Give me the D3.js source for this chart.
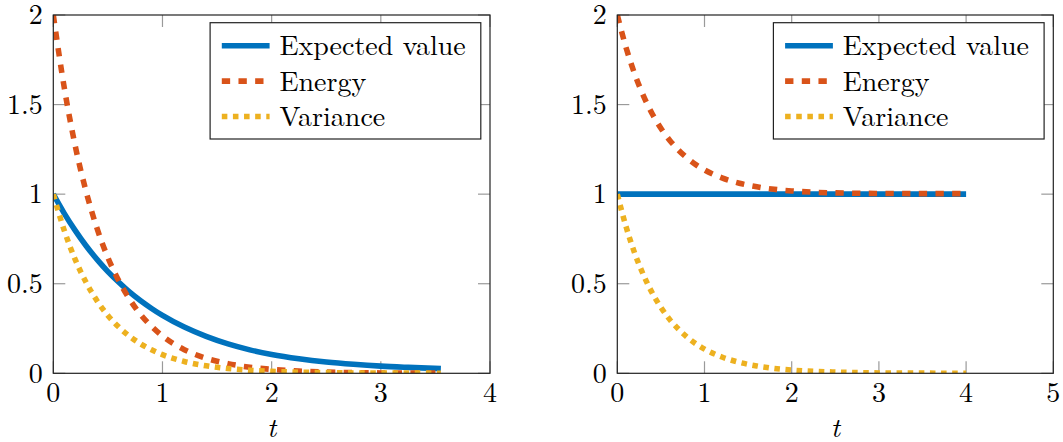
<!DOCTYPE html>
<html>
<head>
<meta charset="utf-8">
<script src="https://cdn.jsdelivr.net/npm/d3@7/dist/d3.min.js"></script>
<style>
  body { margin: 0; background: #fff; }
</style>
</head>
<body>
<div id="chart"></div>
<script>
// left panel, values
const tLeft = [0, 0.1, 0.2, 0.3, 0.4, 0.5, 0.6, 0.7, 0.8, 0.9, 1.0, 1.2, 1.4, 1.6, 1.8, 2.0, 2.25, 2.5, 2.75, 3.0, 3.25, 3.55];
const expLeft = [1, 0.893, 0.798, 0.712, 0.636, 0.568, 0.508, 0.453, 0.405, 0.362, 0.323, 0.258, 0.206, 0.164, 0.131, 0.105, 0.081, 0.063, 0.05, 0.04, 0.033, 0.026];
const energyLeft = [2, 1.596, 1.272, 1.016, 0.81, 0.646, 0.516, 0.412, 0.328, 0.262, 0.208, 0.132, 0.084, 0.054, 0.034, 0.022, 0.012, 0.007, 0.004, 0.002, 0.001, 0.001];
const varLeft = [1, 0.798, 0.636, 0.508, 0.405, 0.323, 0.258, 0.206, 0.164, 0.131, 0.104, 0.066, 0.042, 0.027, 0.017, 0.011, 0.006, 0.004, 0.002, 0.001, 0.001, 0.0005];

// right panel
const tRight = [0, 0.1, 0.2, 0.3, 0.4, 0.5, 0.6, 0.7, 0.8, 0.9, 1.0, 1.2, 1.4, 1.6, 1.8, 2.0, 2.5, 3.0, 3.5, 4.0];
const expRight = [1, 1, 1, 1, 1, 1, 1, 1, 1, 1, 1, 1, 1, 1, 1, 1, 1, 1, 1, 1];
const energyRight = [2, 1.819, 1.670, 1.549, 1.449, 1.368, 1.301, 1.247, 1.202, 1.165, 1.135, 1.091, 1.061, 1.041, 1.027, 1.018, 1.007, 1.004, 1.003, 1.003];
const varRight = [1, 0.819, 0.670, 0.549, 0.449, 0.368, 0.301, 0.247, 0.202, 0.165, 0.135, 0.091, 0.061, 0.041, 0.027, 0.018, 0.007, 0.002, 0.001, 0];

const xTicksLeft = [0, 1, 2, 3, 4];
const xTicksRight = [0, 1, 2, 3, 4, 5];
const yTicks = [0, 0.5, 1, 1.5, 2];
const legendLabels = ["Expected value", "Energy", "Variance"];

const font = "'Latin Modern Roman', 'Liberation Serif', serif";
const lw = 5.56;
const styles = [
  { color: "#0072bd", dash: null },
  { color: "#d95319", dash: "8.34,8.34" },
  { color: "#edb120", dash: "5.56,5.56" }
];
const tickLen = 12;
const axTop = 15, axBottom = 373.3;

var svg = d3.select("#chart")
  .append("svg")
  .attr("width", 1063)
  .attr("height", 442);

//all labels share the same font
function label(parent, x, y, txt) {
  return parent.append("text")
    .attr("x", x)
    .attr("y", y)
    .style("font-family", font)
    .style("font-size", "28px")
    .attr("fill", "#000")
    .text(txt);
}

function drawPanel(id, left, right, xMax, xTicks, t, series) {
  var x = d3.scaleLinear().domain([0, xMax]).range([left, right]);
  var y = d3.scaleLinear().domain([0, 2]).range([axBottom, axTop]);
  var g = svg.append("g");

  //clip for the curves
  svg.append("clipPath")
    .attr("id", "clip-" + id)
    .append("rect")
    .attr("x", left)
    .attr("y", axTop)
    .attr("width", right - left)
    .attr("height", axBottom - axTop);

  //ticks on all four sides, pointing in
  xTicks.forEach(function (d) {
    g.append("line").attr("class", "tick")
      .attr("x1", x(d)).attr("x2", x(d))
      .attr("y1", axBottom).attr("y2", axBottom - tickLen);
    g.append("line").attr("class", "tick")
      .attr("x1", x(d)).attr("x2", x(d))
      .attr("y1", axTop).attr("y2", axTop + tickLen);
    label(g, x(d), 401.8, d).attr("text-anchor", "middle");
  });
  yTicks.forEach(function (d) {
    g.append("line").attr("class", "tick")
      .attr("x1", left).attr("x2", left + tickLen)
      .attr("y1", y(d)).attr("y2", y(d));
    g.append("line").attr("class", "tick")
      .attr("x1", right).attr("x2", right - tickLen)
      .attr("y1", y(d)).attr("y2", y(d));
    label(g, left - 10.5, y(d) + 9.2, d).attr("text-anchor", "end");
  });
  g.selectAll("line.tick")
    .attr("stroke", "#9a9a9a")
    .attr("stroke-width", 1.2);

  //curves
  var line = d3.line()
    .x(function (d, i) { return x(t[i]); })
    .y(function (d) { return y(d); })
    .curve(d3.curveMonotoneX);

  var curves = g.append("g").attr("clip-path", "url(#clip-" + id + ")");
  series.forEach(function (vals, i) {
    curves.append("path")
      .attr("d", line(vals))
      .attr("fill", "none")
      .attr("stroke", styles[i].color)
      .attr("stroke-width", lw)
      .attr("stroke-dasharray", styles[i].dash);
  });

  //frame
  g.append("rect")
    .attr("x", left)
    .attr("y", axTop)
    .attr("width", right - left)
    .attr("height", axBottom - axTop)
    .attr("fill", "none")
    .attr("stroke", "#222")
    .attr("stroke-width", 1.2);

  //x label
  label(g, (left + right) / 2, 436.5, "t")
    .attr("text-anchor", "middle")
    .style("font-style", "italic");

  //legend
  var lgW = 270.7, lgX = right - 9.2 - lgW, lgY = 22.7;
  var lg = g.append("g");
  lg.append("rect")
    .attr("x", lgX)
    .attr("y", lgY)
    .attr("width", lgW)
    .attr("height", 116.3)
    .attr("fill", "#fff")
    .attr("stroke", "#222")
    .attr("stroke-width", 1.2);
  legendLabels.forEach(function (name, i) {
    var ly = lgY + 23 + i * 35.4;
    lg.append("line")
      .attr("x1", lgX + 11.7)
      .attr("x2", lgX + 59.5)
      .attr("y1", ly)
      .attr("y2", ly)
      .attr("stroke", styles[i].color)
      .attr("stroke-width", lw)
      .attr("stroke-dasharray", styles[i].dash);
    label(lg, lgX + 69.3, ly + 9.6, name);
  });
}

drawPanel("left", 53.3, 490, 4, xTicksLeft, tLeft, [expLeft, energyLeft, varLeft]);
drawPanel("right", 617.3, 1053.3, 5, xTicksRight, tRight, [expRight, energyRight, varRight]);
</script>
</body>
</html>
